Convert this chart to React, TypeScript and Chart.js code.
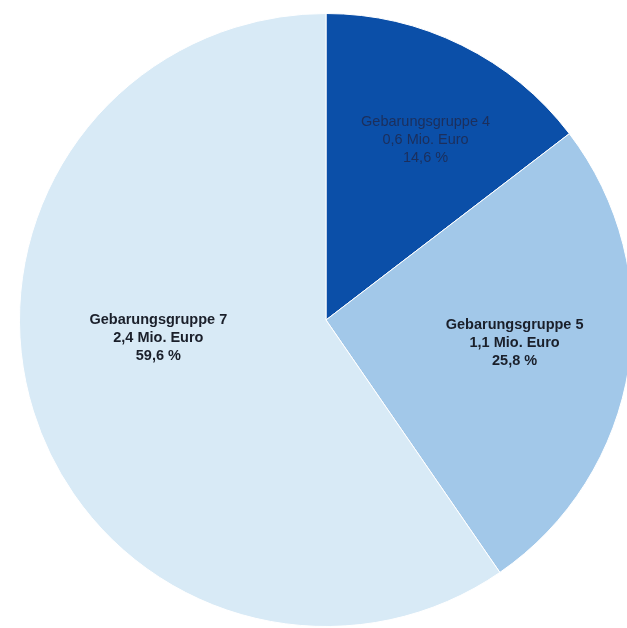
import React, { useEffect, useRef } from "react";
import { Chart, registerables } from "chart.js";

Chart.register(...registerables);

const categories = ["Gebarungsgruppe 4", "Gebarungsgruppe 5", "Gebarungsgruppe 7"];
const shares = [14.6, 25.8, 59.6];
const amountLabels = ["0,6 Mio. Euro", "1,1 Mio. Euro", "2,4 Mio. Euro"];
const shareLabels = ["14,6 %", "25,8 %", "59,6 %"];
const colors = ["#0b4fa8", "#a2c8e9", "#d8eaf6"];

// label placement: angle from 12 o'clock (deg, clockwise) and fraction of radius
const labelAngles = [29, 97, 264];
const labelRadius = [0.67, 0.62, 0.55];
const labelColors = ["#1c2f5c", "#1a1f2a", "#1a1f2a"];
const labelWeights = ["normal", "bold", "bold"];

const labelPlugin = {
  id: "sliceLabels",
  afterDatasetsDraw(chart: any) {
    const meta = chart.getDatasetMeta(0);
    const ctx = chart.ctx;
    ctx.save();
    ctx.textAlign = "center";
    ctx.textBaseline = "middle";
    meta.data.forEach((arc: any, i: number) => {
      const r = arc.outerRadius * labelRadius[i];
      const a = (labelAngles[i] * Math.PI) / 180;
      const x = arc.x + r * Math.sin(a);
      const y = arc.y - r * Math.cos(a);
      ctx.font = `${labelWeights[i]} 14.5px 'Liberation Sans', Arial, sans-serif`;
      ctx.fillStyle = labelColors[i];
      const lines = [categories[i], amountLabels[i], shareLabels[i]];
      lines.forEach((t, k) => ctx.fillText(t, x, y + (k - 1) * 18));
    });
    ctx.restore();
  },
};

export default function App() {
  const ref = useRef<HTMLCanvasElement | null>(null);
  useEffect(() => {
    document.body.style.margin = "0";
    const chart = new Chart(ref.current as HTMLCanvasElement, {
      type: "pie",
      data: {
        labels: categories,
        datasets: [
          {
            data: shares,
            backgroundColor: colors,
            borderColor: "#ffffff",
            borderWidth: 1,
          },
        ],
      },
      options: {
        responsive: false,
        animation: false,
        layout: { padding: { left: 19, right: 27, top: 13, bottom: 1 } },
        plugins: { legend: { display: false }, tooltip: { enabled: false } },
      },
      plugins: [labelPlugin],
    });
    return () => chart.destroy();
  }, []);
  return (
    <div style={{ position: "absolute", left: 0, top: 0, width: 627, height: 628, overflow: "hidden", background: "#fff" }}>
      <canvas ref={ref} width={660} height={628} style={{ display: "block" }} />
    </div>
  );
}
